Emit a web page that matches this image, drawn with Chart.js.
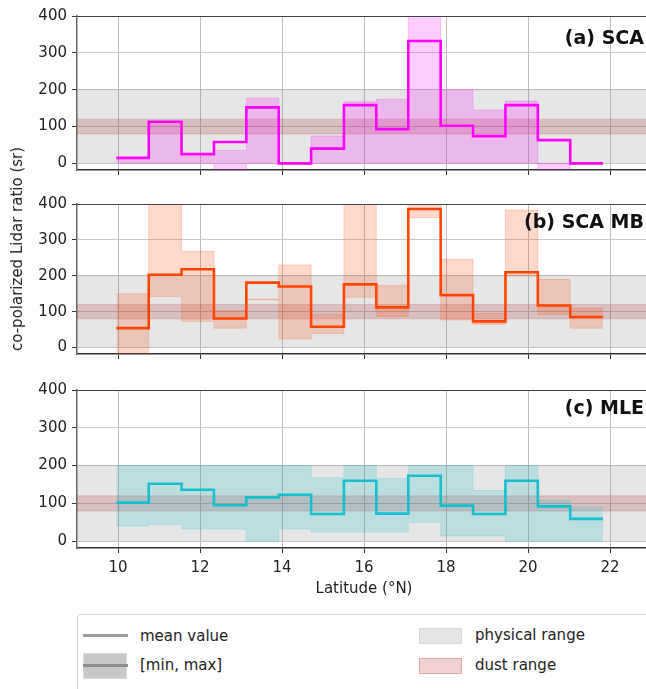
<!DOCTYPE html>
<html>
<head>
<meta charset="utf-8">
<script src="https://cdn.jsdelivr.net/npm/chart.js@4.4.1/dist/chart.umd.min.js"></script>
<style>
  html, body { margin: 0; padding: 0; overflow: hidden; background: #fff; }
  body { width: 646px; height: 689px; position: relative; font-family: 'DejaVu Sans', sans-serif; color: #222; }
  .panel { position: absolute; left: 0; width: 651px; }
  .tag { position: absolute; right: 2px; font-weight: bold; font-size: 19px; line-height: 20px; color: #111; white-space: nowrap; }
  .ylab { position: absolute; left: 17px; top: 249px; transform: translate(-50%, -50%) rotate(-90deg); font-size: 15px; white-space: nowrap; }
  .legend { position: absolute; left: 77px; top: 614px; width: 600px; height: 100px; border: 1px solid #d8d8d8; border-radius: 4px; }
  .lg { position: absolute; }
  .lt { position: absolute; font-size: 15px; line-height: 18px; white-space: nowrap; }
</style>
</head>
<body>
<div class="panel" style="top:0;height:184px"><canvas id="pa"></canvas></div>
<div class="panel" style="top:190px;height:178px"><canvas id="pb"></canvas></div>
<div class="panel" style="top:376px;height:222px"><canvas id="pc"></canvas></div>

<div class="tag" style="top:27px">(a) SCA</div>
<div class="tag" style="top:211px">(b) SCA MB</div>
<div class="tag" style="top:397px">(c) MLE</div>
<div class="ylab">co-polarized Lidar ratio (sr)</div>

<div class="legend"></div>
<div class="lg" style="left:83px;top:634px;width:45px;height:3px;background:#999"></div>
<div class="lt" style="left:140px;top:627px">mean value</div>
<div class="lg" style="left:83px;top:653px;width:42px;height:24px;background:#c8c8c8;border:1px solid #dadada"></div>
<div class="lg" style="left:83px;top:664px;width:45px;height:3px;background:#8c8c8c"></div>
<div class="lt" style="left:140px;top:656px">[min, max]</div>
<div class="lg" style="left:419px;top:628px;width:41px;height:14px;background:#e5e5e5;border:1px solid #d8d8d8"></div>
<div class="lt" style="left:475px;top:626px">physical range</div>
<div class="lg" style="left:419px;top:658px;width:41px;height:14px;background:#f0d2d2;border:1px solid #e2a8a8"></div>
<div class="lt" style="left:475px;top:656px">dust range</div>

<script>
// latitude bin edges (°N)
const edges = [9.96, 10.75, 11.55, 12.34, 13.13, 13.92, 14.71, 15.51, 16.30, 17.08, 17.87, 18.66, 19.45, 20.24, 21.03, 21.83];
const xTicks = [10, 12, 14, 16, 18, 20, 22];
const yTicks = [0, 100, 200, 300, 400];

// (a) SCA
const scaMean = [15, 113, 25, 58, 152, 0, 40, 158, 93, 332, 102, 74, 158, 63, 0];
const scaMin = [0, 0, 0, -20, 0, 0, 0, 0, 0, 0, 0, 0, 0, -20, 0];
const scaMax = [15, 113, 25, 35, 177, 0, 74, 167, 174, 420, 200, 145, 169, 0, 0];

// (b) SCA MB
const mbMean = [54, 203, 218, 81, 181, 170, 58, 176, 112, 386, 146, 73, 210, 117, 85];
const mbMin = [-20, 142, 73, 54, 133, 24, 39, 140, 86, 362, 77, 65, 200, 92, 54];
const mbMax = [150, 420, 268, 103, 135, 230, 92, 420, 173, 420, 246, 95, 383, 190, 110];

// (c) MLE
const mleMean = [102, 152, 136, 95, 116, 123, 72, 160, 73, 173, 94, 72, 160, 92, 59];
const mleMin = [40, 44, 32, 32, 0, 32, 24, 24, 24, 50, 14, 14, 0, 0, 0];
const mleMax = [200, 200, 200, 200, 200, 200, 168, 200, 166, 200, 200, 134, 200, 108, 90];

// reference ranges
const physRange = [0, 200];
const dustRange = [80, 120];
const xLimits = [9, 23];

Chart.defaults.font.family = "'DejaVu Sans', sans-serif";
Chart.defaults.font.size = 15;
Chart.defaults.color = '#222';

// step series: each bin value holds from its left edge; the closing edge repeats the last value
const steps = (vals) => edges.map((x, i) => ({ x: x, y: vals[Math.min(i, vals.length - 1)] }));
const flat = (y) => xLimits.map((x) => ({ x: x, y: y }));

const topFrame = {
  id: 'topFrame',
  afterDraw(chart) {
    const { ctx, chartArea } = chart;
    ctx.save();
    ctx.strokeStyle = '#444';
    ctx.lineWidth = 1.2;
    ctx.beginPath();
    ctx.moveTo(chartArea.left, chartArea.top + 0.5);
    ctx.lineTo(chartArea.right, chartArea.top + 0.5);
    ctx.stroke();
    ctx.restore();
  },
};

function makePanel(id, mean, lo, hi, color, shade, padTop, xAxisH, lastPanel) {
  new Chart(document.getElementById(id), {
    type: 'line',
    data: {
      datasets: [
        { data: steps(mean), stepped: 'before', borderColor: color, borderWidth: 2.6, pointRadius: 0, fill: false, order: 0 },
        { data: steps(hi), stepped: 'before', borderColor: shade, borderWidth: 1, pointRadius: 0, backgroundColor: shade, fill: '+1', order: 1 },
        { data: steps(lo), stepped: 'before', borderColor: shade, borderWidth: 1, pointRadius: 0, fill: false, order: 1 },
        { data: flat(dustRange[1]), borderColor: 'rgba(165,42,42,0.18)', borderWidth: 1, pointRadius: 0, backgroundColor: 'rgba(165,42,42,0.2)', fill: '+1', order: 2 },
        { data: flat(dustRange[0]), borderColor: 'rgba(165,42,42,0.18)', borderWidth: 1, pointRadius: 0, fill: false, order: 2 },
        { data: flat(physRange[1]), borderColor: 'rgba(128,128,128,0.2)', borderWidth: 1, pointRadius: 0, backgroundColor: 'rgba(128,128,128,0.2)', fill: { value: physRange[0] }, order: 3 },
      ],
    },
    options: {
      responsive: true,
      maintainAspectRatio: false,
      animation: false,
      events: [],
      layout: { padding: { top: padTop, left: 0, right: 0, bottom: 0 } },
      plugins: { legend: { display: false }, tooltip: { enabled: false } },
      scales: {
        x: {
          type: 'linear',
          min: xLimits[0],
          max: xLimits[1],
          z: 1,
          afterBuildTicks: (s) => { s.ticks = xTicks.map((v) => ({ value: v })); },
          afterFit: (s) => { s.height = xAxisH; },
          grid: { color: '#bdbdbd', lineWidth: 1, tickColor: '#333', tickLength: 5 },
          border: { color: '#333', width: 1.5 },
          ticks: { display: lastPanel, padding: 6, maxRotation: 0, color: '#222' },
          title: { display: lastPanel, text: 'Latitude (°N)', font: { size: 15 }, color: '#222', padding: { top: 4, bottom: 0 } },
        },
        y: {
          min: -18,
          max: 400,
          z: 1,
          afterBuildTicks: (s) => { s.ticks = yTicks.map((v) => ({ value: v })); },
          afterFit: (s) => { s.width = 77; },
          grid: { color: '#c8c8c8', lineWidth: 1, tickColor: '#333', tickLength: 5 },
          border: { color: '#666', width: 1.5 },
          ticks: { padding: 5, color: '#222' },
        },
      },
    },
    plugins: [topFrame],
  });
}

makePanel('pa', scaMean, scaMin, scaMax, '#ff00ff', 'rgba(255,0,255,0.2)', 16, 6, false);
makePanel('pb', mbMean, mbMin, mbMax, '#ff4500', 'rgba(255,69,0,0.2)', 10, 6, false);
makePanel('pc', mleMean, mleMin, mleMax, '#17becf', 'rgba(23,190,207,0.2)', 10, 50, true);
</script>
</body>
</html>
